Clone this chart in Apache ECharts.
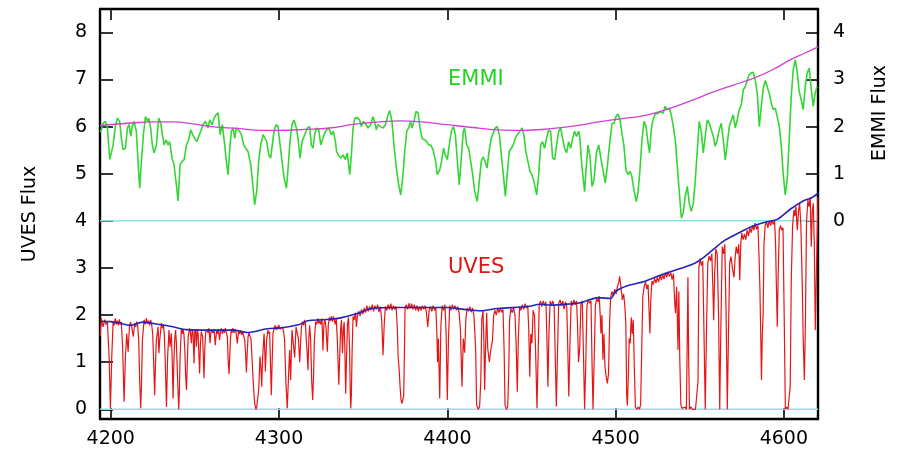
<!DOCTYPE html>
<html>
<head>
<meta charset="utf-8">
<title>UVES / EMMI spectra</title>
<script src="https://cdn.jsdelivr.net/npm/echarts@6/dist/echarts.min.js"></script>
<style>
  html, body { margin: 0; padding: 0; background: #fff; }
  #chart { width: 906px; height: 449px; }
</style>
</head>
<body>
<div id="chart"></div>
<script>
// Wavelength range (Angstrom) and tick values
const waveRange = [4193.6, 4620.3];
const waveTicks = [4200, 4300, 4400, 4500, 4600];
const uvesRange = [-0.206, 8.495];
const uvesTicks = [0, 1, 2, 3, 4, 5, 6, 7, 8];
const emmiRange = [-4.206, 4.495];
const emmiTicks = [0, 1, 2, 3, 4];
// zero levels of the two spectra, in UVES flux units
const zeroLevels = [0, 4];

// EMMI low-resolution spectrum [wavelength, flux]
const emmiSpectrum = [
  [4193.7,1.88],[4194.4,1.93],[4195.4,2.07],[4196.8,2.11],[4198.0,1.97],[4199.4,1.30],[4200.4,1.26],[4201.4,1.61],[4202.7,2.00],[4203.9,2.18],
  [4205.3,2.11],[4206.3,1.75],[4207.3,1.51],[4208.7,1.54],[4209.9,1.97],[4210.9,2.04],[4211.9,1.79],[4212.7,2.00],[4213.8,2.11],[4215.2,1.90],
  [4216.2,1.26],[4217.2,0.69],[4218.2,1.26],[4219.4,1.83],[4220.6,2.21],[4221.8,2.11],[4222.6,2.18],[4223.7,1.97],[4224.7,1.61],[4225.7,1.44],
  [4227.1,1.61],[4228.5,2.18],[4229.7,2.07],[4230.7,1.83],[4231.7,1.61],[4232.9,1.72],[4234.0,1.61],[4235.0,1.68],[4236.4,1.33],[4237.6,1.19],
  [4239.0,0.76],[4240.0,0.42],[4241.2,1.19],[4242.4,1.26],[4243.6,1.30],[4245.0,1.61],[4246.3,1.72],[4247.5,1.93],[4248.7,1.83],[4249.9,1.75],
  [4251.1,1.68],[4252.3,1.79],[4253.5,1.90],[4254.8,2.04],[4256.2,2.11],[4257.8,1.97],[4258.8,2.14],[4260.2,2.04],[4261.4,2.18],[4262.6,2.25],
  [4263.8,2.29],[4265.0,1.83],[4266.3,2.04],[4267.7,1.61],[4268.7,1.26],[4269.7,0.98],[4270.9,1.61],[4271.7,1.90],[4272.7,1.97],[4273.7,1.75],
  [4274.6,1.97],[4276.0,1.93],[4277.6,1.83],[4279.0,1.61],[4280.2,1.54],[4281.6,1.47],[4283.2,1.19],[4284.2,0.84],[4285.5,0.34],[4286.7,0.62],
  [4287.9,1.26],[4289.1,1.61],[4290.5,1.83],[4291.5,1.86],[4292.7,1.68],[4293.9,1.40],[4295.0,1.33],[4296.0,1.61],[4297.0,1.90],[4298.2,2.04],
  [4299.4,2.00],[4300.6,1.61],[4301.8,1.26],[4303.0,0.91],[4304.4,0.69],[4305.4,1.12],[4306.5,1.68],[4307.7,2.04],[4308.9,2.14],[4310.3,1.97],
  [4311.3,1.75],[4312.5,1.33],[4313.7,1.68],[4315.3,1.83],[4316.8,1.97],[4318.2,2.00],[4319.2,1.61],[4320.2,1.54],[4321.2,1.83],[4322.4,1.97],
  [4323.6,1.93],[4324.8,1.61],[4326.1,1.75],[4327.1,1.86],[4328.3,1.93],[4329.5,1.97],[4331.1,1.83],[4332.3,1.90],[4333.5,1.68],[4334.2,1.47],
  [4335.1,1.40],[4336.6,1.33],[4338.0,1.40],[4339.4,1.30],[4340.6,1.44],[4342.0,0.98],[4343.0,1.40],[4344.0,1.97],[4345.0,2.18],[4346.5,2.19],
  [4347.9,2.14],[4348.9,2.00],[4350.1,2.11],[4351.3,2.07],[4352.9,1.97],[4354.5,2.04],[4355.7,2.21],[4356.8,2.11],[4357.8,1.93],[4358.8,2.04],
  [4360.4,2.00],[4361.8,1.97],[4363.2,2.04],[4364.8,2.25],[4365.8,2.34],[4367.1,2.11],[4368.3,1.61],[4369.7,1.12],[4371.1,0.76],[4372.3,0.55],
  [4373.5,0.91],[4374.7,1.47],[4375.9,1.90],[4377.0,1.97],[4378.2,2.11],[4379.0,1.97],[4380.2,2.11],[4381.4,2.32],[4382.6,2.29],[4383.8,1.97],
  [4385.0,1.75],[4386.5,1.72],[4387.7,1.68],[4388.9,1.61],[4390.1,1.61],[4391.5,1.51],[4392.9,1.30],[4394.1,0.98],[4395.5,1.08],[4396.6,1.26],
  [4397.8,1.54],[4398.8,1.40],[4400.0,1.30],[4401.2,1.61],[4402.4,1.90],[4403.6,2.00],[4404.8,1.83],[4406.0,1.26],[4407.1,0.76],[4408.3,1.33],
  [4409.5,1.90],[4410.3,1.97],[4411.5,1.61],[4412.7,1.54],[4413.9,1.26],[4415.1,0.98],[4416.3,0.62],[4417.8,0.41],[4419.0,0.83],[4420.2,1.26],
  [4421.2,1.36],[4422.4,1.26],[4423.6,1.12],[4424.8,1.47],[4426.1,1.75],[4427.3,1.86],[4428.5,1.97],[4429.7,2.00],[4430.9,1.83],[4432.1,1.40],
  [4433.3,0.98],[4434.5,0.52],[4435.6,0.98],[4436.8,1.47],[4438.0,1.54],[4439.2,1.61],[4440.4,1.75],[4441.6,1.83],[4443.2,1.90],[4444.4,1.97],
  [4445.5,1.83],[4446.7,1.47],[4447.9,1.26],[4449.1,1.05],[4450.3,0.98],[4451.5,0.83],[4453.1,0.55],[4454.3,0.98],[4455.5,1.61],[4456.6,1.68],
  [4457.8,1.54],[4459.0,1.75],[4460.2,1.93],[4461.4,1.90],[4462.6,1.33],[4463.8,1.30],[4465.0,1.61],[4466.2,1.90],[4467.4,1.97],[4468.5,1.75],
  [4469.7,1.54],[4470.9,1.44],[4472.1,1.68],[4473.3,1.54],[4474.5,1.75],[4475.6,1.90],[4476.8,1.79],[4478.0,1.90],[4478.7,1.79],[4480.0,1.15],
  [4481.6,0.62],[4482.6,1.15],[4483.6,1.61],[4484.8,1.36],[4486.0,0.73],[4487.2,0.87],[4488.6,1.44],[4490.0,1.61],[4491.1,1.36],[4492.5,1.08],
  [4493.9,0.80],[4495.1,1.15],[4496.5,1.65],[4497.9,2.07],[4499.1,2.07],[4500.2,2.21],[4501.4,2.27],[4502.6,2.14],[4503.8,1.86],[4505.0,1.58],
  [4506.2,1.08],[4507.4,0.98],[4508.6,1.05],[4509.7,0.94],[4510.9,0.66],[4512.3,0.41],[4513.3,0.59],[4514.5,1.08],[4515.7,1.72],[4516.9,2.11],
  [4518.1,2.00],[4519.3,1.65],[4520.2,1.44],[4521.2,1.93],[4522.2,2.14],[4523.6,2.27],[4525.2,2.28],[4526.8,2.32],[4528.2,2.28],[4529.5,2.43],
  [4530.7,2.36],[4531.9,2.39],[4533.1,2.25],[4534.3,2.00],[4535.5,1.72],[4536.7,1.15],[4537.9,0.59],[4539.1,0.06],[4540.2,0.16],[4541.4,0.52],
  [4542.6,0.73],[4543.8,0.37],[4545.0,0.20],[4546.2,0.37],[4547.4,0.87],[4548.6,1.51],[4549.7,2.11],[4550.9,1.90],[4552.1,1.44],[4553.3,1.79],
  [4554.5,2.14],[4555.7,2.07],[4556.9,1.93],[4558.1,1.79],[4559.2,1.58],[4560.4,1.72],[4561.6,1.93],[4562.8,2.07],[4564.0,1.72],[4565.2,1.29],
  [4566.4,1.65],[4567.6,2.00],[4568.8,2.14],[4569.9,2.25],[4571.1,1.97],[4572.3,2.14],[4573.5,2.36],[4574.7,2.46],[4575.9,2.78],[4577.1,2.85],
  [4578.3,2.99],[4579.4,3.10],[4580.6,3.14],[4581.8,3.15],[4583.0,2.99],[4584.2,2.71],[4585.4,2.00],[4586.6,2.43],[4587.8,2.82],[4589.0,2.98],
  [4590.1,2.96],[4591.3,2.71],[4592.5,2.50],[4593.7,2.36],[4594.9,2.39],[4596.1,2.21],[4597.3,2.00],[4598.5,1.58],[4599.6,1.01],[4600.8,0.55],
  [4602.0,0.87],[4603.2,1.72],[4604.4,2.64],[4605.6,3.21],[4606.8,3.42],[4608.0,3.14],[4609.1,2.75],[4610.3,2.57],[4611.5,2.36],[4612.7,2.85],
  [4613.9,3.14],[4615.1,3.24],[4616.3,2.78],[4617.5,2.43],[4618.6,2.71],[4619.8,2.85]
];

// EMMI continuum fit [wavelength, flux]
const emmiContinuum = [
  [4193.6,2.02],[4210,2.07],[4225,2.10],[4237,2.10],[4250,2.05],[4260,2.00],[4275,1.96],[4290,1.92],[4300,1.92],[4315,1.94],
  [4330,1.97],[4345,2.05],[4360,2.10],[4372,2.12],[4385,2.10],[4400,2.04],[4415,1.98],[4430,1.93],[4445,1.92],[4460,1.95],
  [4475,2.01],[4490,2.10],[4502,2.16],[4517,2.23],[4531,2.37],[4545,2.55],[4557,2.72],[4570,2.88],[4581,3.01],[4593,3.20],
  [4604,3.42],[4612,3.55],[4620.3,3.69]
];

// UVES high-resolution spectrum [wavelength, flux]
const uvesSpectrum = [
  [4193.7,1.55],[4194.4,1.93],[4195.4,1.75],[4196.4,1.90],[4197.2,1.80],[4198.0,1.85],[4199.0,1.12],[4199.8,0.02],[4200.6,1.12],[4201.4,1.86],
  [4202.0,1.78],[4202.7,1.93],[4203.4,1.80],[4204.0,1.88],[4204.6,1.78],[4205.1,1.91],[4205.7,1.80],[4206.3,1.85],[4207.1,1.26],[4207.9,0.16],
  [4208.7,1.12],[4209.5,1.61],[4210.3,1.22],[4211.1,1.75],[4211.7,1.85],[4212.3,1.78],[4213.0,1.80],[4213.4,1.54],[4214.2,1.83],[4214.8,1.75],
  [4215.4,1.86],[4216.0,1.78],[4216.6,1.47],[4217.2,0.60],[4217.8,0.02],[4218.3,0.60],[4218.8,1.47],[4219.8,1.90],[4220.5,1.80],[4221.2,1.93],
  [4221.9,1.82],[4222.5,1.88],[4223.1,1.78],[4223.7,1.90],[4224.3,1.80],[4224.9,1.61],[4225.5,1.00],[4226.1,0.30],[4226.6,1.00],[4227.1,1.47],
  [4228.1,1.75],[4228.6,1.19],[4229.1,1.47],[4230.1,1.83],[4230.7,1.72],[4231.3,1.80],[4231.8,1.60],[4232.3,1.12],[4233.1,0.05],[4233.8,1.12],
  [4234.6,1.68],[4235.2,1.33],[4236.0,1.61],[4236.5,1.10],[4237.0,0.23],[4237.5,1.00],[4238.0,1.47],[4238.5,1.68],[4239.0,1.40],[4239.8,0.55],
  [4240.4,0.00],[4240.8,0.40],[4241.2,1.12],[4242.0,1.72],[4242.5,1.60],[4243.0,1.70],[4243.5,1.58],[4244.0,1.26],[4244.5,0.70],[4245.0,0.41],
  [4245.5,1.00],[4246.0,1.54],[4246.9,1.72],[4247.4,1.62],[4247.9,1.40],[4248.4,1.70],[4248.9,1.62],[4249.5,0.97],[4249.9,1.65],[4250.4,1.70],
  [4250.9,1.33],[4251.4,1.68],[4251.9,1.61],[4252.8,0.76],[4253.3,1.40],[4253.8,1.65],[4254.6,1.54],[4255.4,0.66],[4255.9,1.30],[4256.4,1.63],
  [4257.1,1.70],[4257.8,1.62],[4258.4,1.72],[4259.0,1.40],[4259.6,1.68],[4260.2,1.72],[4260.8,1.62],[4261.4,1.70],[4262.1,1.36],[4262.9,1.68],
  [4263.4,1.60],[4263.9,1.70],[4264.7,1.47],[4265.2,1.66],[4265.7,1.72],[4266.3,1.60],[4266.9,1.70],[4267.5,1.62],[4268.1,1.72],[4268.7,1.62],
  [4269.3,1.54],[4269.8,1.00],[4270.3,0.75],[4270.8,1.20],[4271.1,1.47],[4271.6,1.70],[4272.0,1.62],[4272.6,1.72],[4273.2,1.62],[4273.8,1.70],
  [4274.4,1.64],[4275.2,1.40],[4276.0,1.68],[4276.6,1.60],[4277.2,1.68],[4277.8,1.58],[4278.4,1.65],[4279.0,1.55],[4279.6,1.47],[4280.1,1.20],
  [4280.6,0.78],[4281.1,1.20],[4281.6,1.54],[4282.1,1.62],[4282.7,1.55],[4283.3,1.50],[4283.9,1.12],[4284.7,0.55],[4285.5,0.13],[4286.3,0.00],
  [4286.8,0.06],[4287.3,0.02],[4287.9,0.41],[4288.7,1.12],[4289.2,0.90],[4289.7,0.48],[4290.3,1.12],[4291.1,1.61],[4291.5,1.25],[4291.9,0.80],
  [4292.6,1.47],[4293.4,1.68],[4294.0,1.60],[4294.4,1.65],[4294.9,1.00],[4295.4,0.30],[4295.9,1.00],[4296.4,1.61],[4297.0,1.70],[4297.6,1.78],
  [4298.2,1.68],[4298.8,1.76],[4299.4,1.70],[4299.9,1.79],[4300.5,1.70],[4301.0,1.74],[4301.6,1.66],[4302.1,1.75],[4302.7,1.65],[4303.3,1.47],
  [4304.1,0.55],[4304.9,0.02],[4305.3,0.40],[4305.7,0.76],[4306.3,1.26],[4306.9,0.62],[4307.4,1.30],[4307.7,1.68],[4308.5,1.72],[4309.3,1.10],
  [4310.1,1.75],[4310.9,1.79],[4311.5,1.50],[4312.3,1.00],[4312.8,1.40],[4313.3,1.75],[4314.0,1.86],[4314.6,1.78],[4315.2,1.90],[4315.7,1.80],
  [4316.2,1.47],[4316.7,1.20],[4317.2,0.83],[4317.7,1.50],[4318.2,1.78],[4318.8,1.47],[4319.4,0.60],[4320.0,0.20],[4320.5,0.70],[4321.0,1.47],
  [4321.8,1.86],[4322.4,1.80],[4323.1,1.93],[4323.7,1.82],[4324.3,1.88],[4324.9,1.80],[4325.5,1.93],[4326.1,1.25],[4326.7,1.82],[4327.3,1.90],
  [4327.9,1.75],[4328.7,1.22],[4329.3,1.80],[4329.9,1.95],[4330.5,1.88],[4331.1,1.97],[4331.7,1.86],[4332.3,1.97],[4332.9,1.88],[4333.4,1.80],
  [4334.0,1.93],[4334.6,1.50],[4335.1,1.00],[4335.5,0.52],[4336.0,1.05],[4336.6,1.70],[4337.1,1.90],[4337.7,1.19],[4338.2,1.68],[4338.7,1.85],
  [4339.1,1.30],[4339.6,0.33],[4340.2,1.20],[4340.7,1.82],[4341.3,1.95],[4341.9,1.30],[4342.3,0.40],[4342.6,0.02],[4343.0,0.30],[4343.4,1.20],
  [4344.0,1.97],[4344.6,1.90],[4345.4,2.05],[4346.0,1.75],[4346.6,2.00],[4347.4,2.08],[4348.2,1.98],[4349.0,2.12],[4349.8,2.02],[4350.6,2.15],
  [4351.4,2.05],[4352.2,2.20],[4353.0,2.08],[4353.8,2.18],[4354.6,2.10],[4355.4,2.22],[4356.2,2.08],[4357.0,2.20],[4357.8,2.12],[4358.6,2.22],
  [4359.4,2.06],[4360.2,2.18],[4361.0,1.90],[4361.8,1.15],[4362.5,1.80],[4363.2,2.18],[4364.0,2.10],[4364.8,2.22],[4365.6,2.12],[4366.4,2.24],
  [4367.2,2.10],[4368.0,2.20],[4368.8,2.12],[4369.6,2.18],[4370.3,1.70],[4370.8,1.10],[4371.4,0.85],[4371.9,0.50],[4372.5,0.20],[4373.1,0.12],
  [4373.6,0.10],[4374.1,0.30],[4374.5,1.20],[4374.9,2.15],[4375.6,2.22],[4376.4,2.12],[4377.2,2.25],[4378.0,2.14],[4378.8,2.24],[4379.6,2.12],
  [4380.4,2.22],[4381.2,2.10],[4382.0,2.20],[4382.8,2.08],[4383.6,2.18],[4384.4,2.10],[4385.2,2.20],[4386.0,2.12],[4386.8,2.20],[4387.6,2.05],
  [4388.4,1.75],[4389.2,2.10],[4390.0,2.18],[4390.8,2.08],[4391.6,2.20],[4392.4,2.10],[4393.2,2.15],[4393.8,1.60],[4394.2,1.00],[4394.7,1.50],
  [4395.5,0.23],[4396.2,1.80],[4397.0,2.20],[4397.8,2.10],[4398.6,2.22],[4399.3,1.60],[4400.0,0.20],[4400.7,1.50],[4401.4,2.20],[4402.2,2.10],
  [4403.0,2.22],[4403.8,2.12],[4404.6,2.20],[4405.4,2.10],[4406.2,2.18],[4407.0,2.05],[4407.8,1.70],[4408.7,0.48],[4409.5,1.50],[4410.3,1.20],
  [4411.0,1.90],[4411.8,2.15],[4412.6,2.08],[4413.4,2.18],[4414.2,2.06],[4415.0,2.15],[4415.8,2.00],[4416.3,1.68],[4416.9,1.20],[4417.4,0.10],
  [4418.3,0.00],[4419.2,0.05],[4419.9,0.60],[4420.5,1.90],[4421.2,2.10],[4421.7,1.50],[4422.2,0.41],[4422.8,1.40],[4423.4,2.05],[4424.0,1.30],
  [4425.0,1.00],[4425.8,1.25],[4426.8,1.45],[4427.6,2.00],[4428.3,2.10],[4429.1,2.00],[4429.9,2.14],[4430.7,2.05],[4431.5,2.15],[4432.3,2.06],
  [4433.1,2.12],[4433.8,1.20],[4434.3,0.10],[4435.1,0.00],[4435.9,0.05],[4436.5,0.80],[4437.0,1.90],[4437.8,2.14],[4438.6,2.05],[4439.4,2.16],
  [4440.2,2.00],[4440.9,1.40],[4441.6,0.37],[4442.2,1.50],[4443.0,2.18],[4443.8,2.10],[4444.6,2.22],[4445.4,2.12],[4446.2,2.24],[4447.0,2.15],
  [4447.8,2.20],[4448.4,1.70],[4449.0,0.69],[4449.6,1.60],[4450.3,1.40],[4451.0,2.10],[4451.8,2.00],[4452.5,1.20],[4453.3,0.02],[4454.0,1.20],
  [4454.6,2.20],[4455.4,2.30],[4456.2,2.18],[4457.0,2.30],[4457.8,2.20],[4458.6,2.28],[4459.2,1.50],[4459.8,0.48],[4460.4,1.60],[4461.1,2.30],
  [4461.9,2.20],[4462.7,2.30],[4463.5,2.18],[4464.1,1.20],[4464.8,0.06],[4465.5,1.20],[4466.2,2.25],[4467.0,2.32],[4467.8,2.20],[4468.6,2.30],
  [4469.4,2.12],[4470.2,2.28],[4471.0,2.18],[4471.6,1.30],[4472.2,0.27],[4472.9,1.40],[4473.6,2.30],[4474.4,2.20],[4475.2,2.32],[4476.0,2.22],
  [4476.8,2.30],[4477.4,1.80],[4478.0,1.00],[4478.7,1.30],[4479.4,2.25],[4480.2,2.30],[4480.9,1.20],[4481.6,0.00],[4482.3,1.00],[4483.0,2.20],
  [4483.8,2.32],[4484.6,2.25],[4485.4,2.30],[4486.0,1.00],[4486.6,0.00],[4487.3,1.10],[4488.0,2.20],[4488.8,2.35],[4489.6,2.28],[4490.3,2.40],
  [4491.0,1.90],[4491.3,1.61],[4491.9,2.00],[4492.5,1.05],[4493.1,1.60],[4493.7,0.90],[4494.4,0.70],[4495.1,0.55],[4495.8,0.75],[4496.5,1.90],
  [4497.1,2.39],[4497.9,2.50],[4498.7,2.40],[4499.5,2.55],[4500.3,2.45],[4501.1,2.60],[4501.9,2.70],[4502.4,2.82],[4503.2,2.60],[4504.0,2.32],
  [4504.8,2.45],[4505.5,2.20],[4506.1,1.82],[4506.6,0.30],[4507.0,0.08],[4507.5,0.60],[4508.1,1.50],[4508.7,1.40],[4509.3,1.95],[4509.9,1.60],
  [4510.5,1.90],[4511.2,0.80],[4511.8,0.05],[4512.6,0.00],[4513.4,0.05],[4514.2,0.00],[4514.9,0.10],[4515.5,1.20],[4516.2,2.40],[4517.0,2.60],
  [4517.8,2.70],[4518.6,2.55],[4519.3,2.65],[4520.0,2.00],[4520.4,1.61],[4520.9,2.30],[4521.6,2.72],[4522.4,2.65],[4523.2,2.78],[4524.0,2.68],
  [4524.8,2.80],[4525.6,2.70],[4526.4,2.85],[4527.2,2.74],[4528.0,2.86],[4528.8,2.76],[4529.6,2.90],[4530.4,2.80],[4531.2,2.92],[4532.0,2.82],
  [4532.8,2.90],[4533.6,2.75],[4534.4,2.88],[4535.1,2.30],[4535.6,2.04],[4536.3,2.60],[4537.1,1.26],[4537.6,2.50],[4538.2,1.00],[4538.8,0.10],
  [4539.6,0.02],[4540.5,0.00],[4541.3,0.05],[4542.1,0.00],[4542.6,1.50],[4543.0,2.80],[4543.4,1.20],[4543.9,0.00],[4544.8,0.05],[4545.7,0.00],
  [4546.6,0.04],[4547.5,0.00],[4548.4,0.02],[4549.0,0.60],[4549.5,3.00],[4550.3,3.20],[4551.0,3.05],[4551.8,3.15],[4552.6,1.50],[4553.3,0.00],
  [4554.0,1.60],[4554.8,3.10],[4555.6,3.25],[4556.4,3.15],[4557.2,3.30],[4557.8,2.60],[4558.3,1.89],[4558.9,2.90],[4559.6,3.40],[4560.4,3.30],
  [4561.2,2.00],[4561.9,0.00],[4562.6,1.80],[4563.4,3.45],[4564.2,3.30],[4564.9,3.50],[4565.7,2.00],[4566.4,0.00],[4567.1,1.60],[4567.8,3.10],
  [4568.6,3.24],[4569.4,3.00],[4570.4,2.80],[4571.0,3.20],[4571.7,3.45],[4572.5,3.30],[4573.2,3.50],[4573.8,2.74],[4574.4,3.50],[4575.0,3.74],
  [4575.8,3.60],[4576.6,3.72],[4577.4,3.60],[4578.2,3.80],[4579.0,3.68],[4579.8,3.85],[4580.6,3.75],[4581.4,3.90],[4582.2,3.80],[4583.0,3.95],
  [4583.8,3.82],[4584.6,3.90],[4585.3,3.20],[4585.8,2.53],[4586.3,1.50],[4586.7,0.62],[4587.2,1.60],[4587.7,2.04],[4588.2,3.50],[4588.9,3.90],
  [4589.7,3.98],[4590.5,3.85],[4591.3,4.00],[4592.1,3.90],[4592.9,4.02],[4593.7,3.92],[4594.5,4.00],[4595.1,3.50],[4595.5,2.74],[4596.1,1.75],
  [4596.6,2.80],[4597.3,3.80],[4598.0,3.90],[4598.8,3.80],[4599.5,3.85],[4600.2,2.00],[4600.9,0.00],[4601.7,0.05],[4602.5,0.00],[4603.3,0.04],
  [4603.8,0.50],[4604.4,2.70],[4605.2,3.90],[4606.0,4.23],[4606.6,4.10],[4607.2,4.30],[4608.0,3.80],[4608.7,4.20],[4609.4,4.37],[4610.1,3.90],
  [4610.8,2.90],[4611.5,1.50],[4612.2,0.62],[4612.8,1.80],[4613.5,4.00],[4614.3,4.44],[4615.0,4.30],[4615.7,4.50],[4616.3,3.45],[4616.9,4.20],
  [4617.5,4.37],[4618.1,3.50],[4618.7,1.68],[4619.4,3.00],[4620.3,4.50]
];

// UVES continuum fit [wavelength, flux]
const uvesContinuum = [
  [4193.6,1.87],[4200,1.86],[4205,1.83],[4211.5,1.78],[4219,1.85],[4229,1.80],[4237,1.75],[4245,1.69],[4259,1.68],[4273,1.68],
  [4281,1.63],[4293,1.71],[4302,1.73],[4312,1.80],[4317,1.88],[4326,1.90],[4335,1.93],[4347,2.04],[4355,2.14],[4370,2.16],
  [4400,2.16],[4410,2.12],[4420,2.09],[4430,2.14],[4448,2.18],[4455,2.23],[4462,2.21],[4474,2.24],[4479,2.26],[4490,2.37],
  [4497,2.35],[4500,2.50],[4507,2.62],[4517,2.71],[4527,2.85],[4537,2.97],[4547,3.10],[4553,3.24],[4559,3.42],[4565,3.59],
  [4573,3.74],[4581,3.88],[4590,3.98],[4596,4.03],[4604,4.25],[4612,4.43],[4616,4.48],[4620.3,4.58]
];

const FONT = 'DejaVu Sans';
const plain = v => String(v);
const chart = echarts.init(document.getElementById('chart'), null, { renderer: 'canvas' });

function frameAxisX(position, showLabels) {
  return {
    type: 'value', position: position, min: waveRange[0], max: waveRange[1],
    axisLine: { show: true, onZero: false, lineStyle: { color: '#000', width: 2.4 } },
    axisTick: { show: true, inside: true, length: 11, customValues: waveTicks, lineStyle: { color: '#000', width: 1.6 } },
    axisLabel: { show: showLabels, customValues: waveTicks, formatter: plain, color: '#000', fontSize: 19, fontFamily: FONT, margin: 11 },
    splitLine: { show: false }
  };
}

function levelLine(y) {
  return {
    type: 'line', yAxisIndex: 0, z: 1, silent: true, showSymbol: false,
    data: [[waveRange[0], y], [waveRange[1], y]],
    lineStyle: { color: '#86e3ea', width: 1.6 }
  };
}

const option = {
  animation: false,
  backgroundColor: '#fff',
  grid: { left: 100, right: 88, top: 9, bottom: 30, containLabel: false },
  xAxis: [frameAxisX('bottom', true), frameAxisX('top', false)],
  yAxis: [
    {
      type: 'value', position: 'left', min: uvesRange[0], max: uvesRange[1],
      name: 'UVES Flux', nameLocation: 'middle', nameRotate: 90, nameGap: 60,
      nameTextStyle: { color: '#000', fontSize: 19, fontFamily: FONT },
      axisLine: { show: true, onZero: false, lineStyle: { color: '#000', width: 2.4 } },
      axisTick: { show: true, inside: true, length: 13, customValues: uvesTicks, lineStyle: { color: '#000', width: 1.6 } },
      axisLabel: { customValues: uvesTicks, formatter: plain, color: '#000', fontSize: 19, fontFamily: FONT, margin: 13 },
      splitLine: { show: false }
    },
    {
      type: 'value', position: 'right', min: emmiRange[0], max: emmiRange[1],
      axisLine: { show: true, onZero: false, lineStyle: { color: '#000', width: 2.4 } },
      axisTick: { show: true, inside: true, length: 12, customValues: emmiTicks, lineStyle: { color: '#000', width: 1.6 } },
      axisLabel: { customValues: emmiTicks, formatter: plain, color: '#000', fontSize: 19, fontFamily: FONT, margin: 15 },
      splitLine: { show: false }
    }
  ],
  graphic: [
    { type: 'text', left: 448, top: 69, style: { text: 'EMMI', fill: '#22d322', font: '21px "DejaVu Sans"' } },
    { type: 'text', left: 448, top: 257, style: { text: 'UVES', fill: '#e01414', font: '21px "DejaVu Sans"' } },
    { type: 'text', x: 880, y: 113, rotation: Math.PI / 2,
      style: { text: 'EMMI Flux', fill: '#000', font: '19px "DejaVu Sans"', align: 'center', verticalAlign: 'middle' } }
  ],
  series: [
    levelLine(zeroLevels[0]),
    levelLine(zeroLevels[1]),
    {
      name: 'UVES', type: 'line', yAxisIndex: 0, z: 2, showSymbol: false, silent: true,
      data: uvesSpectrum, lineStyle: { color: '#e51616', width: 1.2 }
    },
    {
      name: 'UVES continuum', type: 'line', yAxisIndex: 0, z: 3, showSymbol: false, silent: true, smooth: 0.3,
      data: uvesContinuum, lineStyle: { color: '#2424b8', width: 1.6 }
    },
    {
      name: 'EMMI', type: 'line', yAxisIndex: 1, z: 2, showSymbol: false, silent: true,
      data: emmiSpectrum, lineStyle: { color: '#33d633', width: 1.6 }
    },
    {
      name: 'EMMI continuum', type: 'line', yAxisIndex: 1, z: 3, showSymbol: false, silent: true, smooth: 0.4,
      data: emmiContinuum, lineStyle: { color: '#d23fd2', width: 1.3 }
    }
  ]
};
chart.setOption(option);
</script>
</body>
</html>
